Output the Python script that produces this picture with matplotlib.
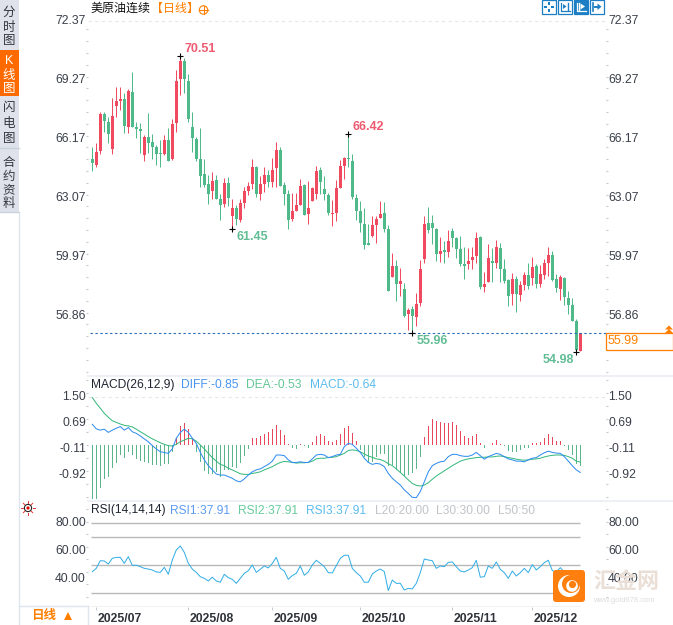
import matplotlib
matplotlib.use("Agg")
import matplotlib.pyplot as plt
from matplotlib.patches import Rectangle, FancyBboxPatch, Circle, Wedge
from matplotlib.ticker import MultipleLocator
from matplotlib.transforms import ScaledTranslation
import numpy as np

plt.rcParams['font.family'] = ['Liberation Sans', 'Noto Sans CJK SC', 'DejaVu Sans']

opens = [65.11,64.80,65.55,67.48,67.06,65.66,67.90,68.16,68.27,66.81,68.64,66.80,66.69,65.32,66.27,65.99,65.75,65.41,65.38,66.11,
         65.11,67.02,69.32,70.26,69.21,66.80,66.17,65.11,64.33,63.80,63.43,64.01,63.01,62.75,63.85,62.12,62.54,61.91,62.80,63.43,
         63.80,64.71,63.28,63.80,64.27,63.92,64.66,65.59,63.75,63.28,61.96,62.38,62.70,63.75,62.22,62.91,63.28,64.54,63.54,63.22,
         62.22,62.28,63.59,64.75,65.17,65.01,63.07,62.38,61.70,60.70,61.07,61.65,62.01,62.28,61.44,58.91,59.49,58.55,58.28,56.97,
         57.23,56.81,57.55,59.86,61.75,61.75,61.44,60.12,60.33,60.23,61.33,60.96,60.39,59.60,59.60,59.81,60.02,61.02,58.39,58.65,
         59.75,59.65,60.44,59.33,58.76,58.02,58.81,57.97,58.49,59.02,58.86,59.49,58.54,59.02,59.65,60.07,58.81,58.28,58.86,57.81,
         57.44,56.60,55.02]
highs = [65.76,65.97,67.57,67.57,67.30,68.34,68.88,68.92,68.57,68.78,69.69,67.08,66.99,66.36,67.53,66.41,65.85,66.11,66.38,66.73,
         67.22,69.79,70.51,70.40,69.58,67.60,66.25,66.73,65.11,64.27,64.43,64.29,63.28,64.12,64.17,63.01,62.70,63.01,63.64,63.91,
         65.11,64.75,64.22,64.67,64.54,65.19,65.99,65.73,63.92,63.49,63.35,63.31,64.06,63.80,63.98,63.66,64.75,64.68,64.22,63.31,
         62.96,64.01,65.06,65.24,66.42,65.38,63.28,62.91,62.54,61.70,62.12,62.12,62.91,62.86,61.65,60.16,59.81,59.39,58.60,57.29,
         57.39,58.07,59.81,62.12,62.59,62.17,61.49,61.02,60.81,61.38,61.49,61.02,61.07,60.49,60.44,60.49,61.28,61.07,59.18,60.65,
         60.44,60.86,60.70,59.86,58.81,59.11,58.97,58.72,59.16,59.63,59.98,59.60,59.54,59.86,60.49,60.28,59.07,59.02,58.89,58.18,
         57.81,56.70,55.99]
lows = [64.50,64.71,65.38,66.53,65.94,65.38,67.34,67.69,66.50,66.50,66.78,66.22,65.45,65.03,65.41,65.10,64.80,64.71,65.32,65.01,
        65.06,66.55,68.48,68.60,67.04,65.50,65.03,63.66,63.66,62.75,63.01,63.01,61.91,62.59,62.64,61.45,61.65,61.80,62.54,63.22,
        63.54,63.10,62.96,63.40,63.63,63.66,63.66,63.70,62.70,61.44,61.86,62.38,62.70,62.17,61.70,62.91,63.00,63.28,62.96,62.17,
        61.59,61.86,63.59,64.06,64.68,63.01,61.91,61.28,60.39,60.60,61.02,60.70,62.01,61.28,58.18,58.91,57.65,57.91,56.83,56.13,
        55.96,56.34,57.39,59.65,61.23,60.65,59.75,59.70,59.65,59.96,60.49,59.91,59.49,58.81,59.33,59.33,59.65,58.28,58.13,58.65,
        58.65,59.39,58.65,58.60,57.39,57.44,57.09,57.65,58.23,58.28,58.49,58.32,58.37,58.81,58.97,58.69,58.12,57.70,57.44,56.97,
        56.60,54.98,55.02]
closes = [64.89,65.46,67.48,67.13,66.43,67.39,68.16,68.27,66.87,68.69,66.81,66.69,66.60,66.29,65.97,65.75,65.38,65.38,66.11,65.01,
          66.95,69.21,70.26,69.32,67.22,66.22,65.11,64.22,63.77,63.29,63.96,63.01,62.71,63.85,63.07,62.54,61.96,62.80,63.43,63.70,
          64.71,63.28,63.80,64.27,63.92,64.54,65.59,63.70,63.28,61.91,62.38,62.70,63.70,62.17,62.54,63.59,64.48,63.91,63.28,62.28,
          62.28,63.59,64.75,65.17,65.12,63.12,62.38,61.75,60.60,60.60,61.65,61.96,62.22,61.44,58.18,59.49,58.55,58.70,56.87,57.18,
          56.87,57.49,59.33,61.70,61.38,61.49,60.12,60.28,60.23,60.81,60.96,60.39,59.60,59.49,59.75,59.96,60.96,58.39,58.55,59.91,
          59.65,60.49,59.33,58.70,57.91,58.81,58.02,58.49,59.02,58.44,59.44,58.54,59.07,59.65,60.07,58.76,58.34,58.91,57.86,57.44,
          56.60,55.08,55.99]

macd_hist = [-1.68,-1.66,-1.34,-1.06,-1.00,-0.70,-0.57,-0.31,-0.41,-0.23,-0.31,-0.43,-0.50,-0.54,-0.57,-0.62,-0.62,-0.64,-0.60,-0.60,
             -0.23,0.21,0.60,0.69,0.49,0.21,-0.23,-0.54,-0.79,-0.91,-0.91,-0.83,-0.98,-0.77,-0.77,-0.67,-0.72,-0.57,-0.34,-0.12,
             0.21,0.21,0.27,0.34,0.39,0.49,0.62,0.46,0.31,0.02,-0.08,-0.12,0.02,-0.02,-0.08,0.10,0.29,0.34,0.29,0.13,
             0.10,0.15,0.33,0.52,0.59,0.36,0.13,-0.15,-0.36,-0.54,-0.52,-0.36,-0.28,-0.29,-0.64,-0.62,-0.77,-0.88,-0.95,-0.93,
             -0.88,-0.75,-0.38,0.24,0.59,0.80,0.74,0.70,0.69,0.67,0.71,0.62,0.43,0.28,0.23,0.28,0.34,0.07,-0.08,0.01,
             0.05,0.15,0.02,-0.02,-0.19,-0.23,-0.23,-0.15,-0.08,-0.08,0.05,0.07,0.10,0.23,0.34,0.25,0.13,0.13,-0.02,-0.15,
             -0.31,-0.60,-0.64]
diff = [0.64,0.50,0.46,0.49,0.39,0.46,0.52,0.57,0.46,0.54,0.41,0.36,0.28,0.19,0.10,-0.02,-0.12,-0.21,-0.23,-0.26,
        -0.12,0.21,0.39,0.49,0.39,0.21,0.05,-0.23,-0.46,-0.64,-0.77,-0.90,-0.93,-0.93,-0.98,-1.03,-1.11,-1.14,-1.05,-0.93,
        -0.83,-0.77,-0.74,-0.67,-0.60,-0.50,-0.31,-0.31,-0.33,-0.46,-0.54,-0.54,-0.52,-0.54,-0.54,-0.43,-0.31,-0.29,-0.31,-0.39,
        -0.36,-0.31,-0.29,-0.05,0.05,0.02,-0.10,-0.23,-0.41,-0.54,-0.60,-0.57,-0.59,-0.67,-0.88,-1.03,-1.14,-1.24,-1.39,-1.50,
        -1.62,-1.63,-1.44,-1.14,-0.83,-0.64,-0.57,-0.52,-0.50,-0.36,-0.29,-0.29,-0.33,-0.35,-0.35,-0.31,-0.23,-0.33,-0.44,-0.36,
        -0.31,-0.26,-0.29,-0.36,-0.43,-0.46,-0.50,-0.50,-0.52,-0.46,-0.41,-0.39,-0.31,-0.24,-0.19,-0.23,-0.25,-0.26,-0.36,-0.50,
        -0.64,-0.77,-0.85]
dea = [1.47,1.29,1.14,0.98,0.86,0.75,0.70,0.65,0.61,0.59,0.56,0.49,0.41,0.34,0.26,0.19,0.13,0.07,0.02,-0.02,
       -0.03,0.02,0.10,0.15,0.21,0.19,0.12,0.00,-0.12,-0.26,-0.39,-0.50,-0.60,-0.64,-0.72,-0.77,-0.83,-0.89,-0.91,-0.91,
       -0.88,-0.86,-0.83,-0.77,-0.72,-0.67,-0.60,-0.54,-0.51,-0.52,-0.54,-0.56,-0.55,-0.55,-0.54,-0.50,-0.43,-0.41,-0.41,-0.39,
       -0.38,-0.36,-0.31,-0.26,-0.17,-0.15,-0.17,-0.21,-0.28,-0.34,-0.38,-0.43,-0.45,-0.50,-0.58,-0.64,-0.74,-0.85,-0.96,-1.08,
       -1.19,-1.25,-1.27,-1.24,-1.17,-1.06,-0.96,-0.88,-0.80,-0.72,-0.64,-0.57,-0.50,-0.46,-0.43,-0.41,-0.39,-0.38,-0.38,-0.37,
       -0.37,-0.35,-0.34,-0.36,-0.39,-0.41,-0.44,-0.46,-0.47,-0.46,-0.44,-0.43,-0.41,-0.37,-0.34,-0.32,-0.31,-0.31,-0.32,-0.36,
       -0.41,-0.50,-0.53]
rsi = [45.2,47.6,53.1,52.9,50.7,54.8,55.5,55.5,51.2,56.0,49.8,49.8,48.8,47.6,47.1,46.4,45.0,44.7,48.3,43.3,
       53.6,60.8,63.7,59.1,51.2,47.1,44.7,41.6,40.4,38.5,41.2,38.5,37.6,43.3,40.9,39.7,36.8,40.4,44.0,45.9,
       50.0,44.7,46.9,49.3,47.9,51.2,55.5,47.6,45.7,39.7,42.4,44.0,49.3,42.6,45.0,50.0,53.4,51.2,48.8,44.5,
       44.3,49.5,54.8,57.0,57.0,47.6,44.5,42.1,37.6,37.6,43.5,45.7,47.1,45.2,31.6,39.2,36.8,36.8,32.0,33.2,
       32.8,36.8,44.5,54.3,53.6,53.1,47.6,49.3,48.8,51.9,52.2,48.8,45.7,45.0,46.4,48.1,53.4,41.2,41.6,49.3,
       47.6,52.2,46.9,44.5,40.4,45.7,42.1,44.5,47.6,44.5,50.3,46.4,48.8,51.7,53.4,46.0,45.0,48.1,45.0,44.0,
       40.0,36.0,37.91]
for s in (opens, highs, lows, closes, macd_hist, diff, dea, rsi):
    assert len(s) == 123, len(s)

price_ticks = [72.37, 69.27, 66.17, 63.07, 59.97, 56.86]
macd_ticks = [1.50, 0.69, -0.11, -0.92]
rsi_ticks = [80, 60, 40]
rsi_levels = [80, 70, 50, 30, 20]
month_idx = [1, 24, 45, 67, 90, 110]
month_labels = ['2025/07', '2025/08', '2025/09', '2025/10', '2025/11', '2025/12']
last_price = 55.99
price_notes = [(22, 70.51, '70.51', 'r'), (64, 66.42, '66.42', 'r'), (35, 61.45, '61.45', 'g'),
               (80, 55.96, '55.96', 'g'), (121, 54.98, '54.98', 'g')]

W, H = 673, 625
RED, GREEN = '#ef4a60', '#50b98a'
ORANGE = '#ff7f00'
TXT = '#3a3f4a'
px = lambda v: v * 0.72
fig = plt.figure(figsize=(W / 100, H / 100), dpi=100, facecolor='white')


def make_ax(y0, y1):
    a = fig.add_axes([88 / W, 1 - y1 / H, (606 - 88) / W, (y1 - y0) / H])
    a.set_xlim((88 - 92.3) / 4, (606 - 92.3) / 4)
    a.patch.set_alpha(0)
    for s in a.spines.values():
        s.set_visible(False)
    return a


def style_y(a, ticks, labels, minor):
    a.set_yticks(ticks)
    a.set_yticklabels(labels)
    a.yaxis.set_minor_locator(MultipleLocator(minor))
    a.tick_params(axis='y', which='major', left=False, right=False, labelleft=True, labelright=True,
                  length=0, labelsize=px(12.3), labelcolor=TXT, pad=1.5)
    a.tick_params(axis='y', which='minor', left=True, right=True, length=1.2, width=0.8, color='#c4c8cf')
    off = ScaledTranslation(0, 1.5 / 100, fig.dpi_scale_trans)
    for t in a.yaxis.get_major_ticks():
        t.label1.set_transform(t.label1.get_transform() + off)
        t.label2.set_transform(t.label2.get_transform() + off)
    a.set_xticks([])


# price pane
ax = make_ax(20, 375)
ax.set_ylim(73.47 - 0.05255 * 375, 73.47 - 0.05255 * 20)
x = np.arange(len(opens))
o, h, l, c = map(np.array, (opens, highs, lows, closes))
colors = [RED if cc >= oo else GREEN for oo, cc in zip(o, c)]
ax.vlines(x, l, h, colors=colors, lw=0.72, zorder=2)
ax.bar(x, np.maximum(np.abs(c - o), 0.03), bottom=np.minimum(o, c), width=0.82, color=colors, lw=0, zorder=3)
ax.axhline(last_price, xmin=(90 - 88) / 518, color='#2a6fb8', lw=0.8, dashes=(2.2, 2.2), zorder=4)
ax.axhline(72.37, color='#e6e8ec', lw=0.8, dashes=(3, 3), zorder=1)
style_y(ax, price_ticks, [f'{v:.2f}' for v in price_ticks], 0.62)
note_off = {'70.51': (4, 7), '66.42': (4, 7), '61.45': (4, -8), '55.96': (4, -8), '54.98': (-34, -8)}
for i, v, t, k in price_notes:
    ax.plot([i], [v], marker='+', ms=5, mew=0.8, color='black', zorder=5)
    dx, dy = note_off[t]
    ax.annotate(t, (i, v), xytext=(px(dx), px(dy)), textcoords='offset points', va='center', ha='left',
                fontsize=px(12.5), fontweight='bold', color='#ee5a70' if k == 'r' else '#62bd94', zorder=6)

# MACD pane
ax2 = make_ax(376, 500)
ax2.set_ylim((445 - 500) / 32.3, (445 - 376) / 32.3)
hist = np.array(macd_hist)
ax2.bar(x, hist, width=0.3, color=['#e9485c' if v > 0 else '#5ab58a' for v in hist], lw=0, zorder=2)
ax2.plot(x, dea, color='#35b87c', lw=0.72, zorder=3)
ax2.plot(x, diff, color='#2e8bf0', lw=0.72, zorder=4)
ax2.axhline(1.50, color='#e6e8ec', lw=0.8, dashes=(3, 3), zorder=1)
style_y(ax2, macd_ticks, [f'{v:.2f}' for v in macd_ticks], 0.4)

# RSI pane
ax3 = make_ax(501, 607)
ax3.set_ylim(80 - (607 - 523.3) / 1.39, 80 - (501 - 523.3) / 1.39)
ax3.hlines(rsi_levels, -0.3, 122, color='#b8b8b8', lw=1.0, zorder=1)
ax3.plot(x, rsi, color='#33aee6', lw=0.72, zorder=3)
style_y(ax3, rsi_ticks, [f'{v:.2f}' for v in rsi_ticks], 9)
ax3.set_xticks(month_idx)
ax3.set_xticklabels(month_labels, ha='left', fontsize=px(12.2), fontweight='bold', color='#2f3238')
ax3.tick_params(axis='x', length=2.5, width=0.7, color='#c4c8cf', pad=1.5)
for lab in ax3.get_xticklabels():
    lab.set_transform(lab.get_transform() + ScaledTranslation(1.5 / 100, 0, fig.dpi_scale_trans))

# page furniture in pixel coordinates
ch = fig.add_axes([0, 0, 1, 1], zorder=10)
ch.set_xlim(0, W)
ch.set_ylim(H, 0)
ch.axis('off')
ch.patch.set_alpha(0)
ch.add_patch(Rectangle((0, 0), 19, 213, fc='#dfe2ea', ec='none'))
ch.add_patch(Rectangle((0, 50), 19, 46, fc='#ff6a00', ec='none'))
for yy in (148, 212):
    ch.plot([0, 19], [yy, yy], color='#c9d2dc', lw=1)
ch.plot([18.5, 18.5], [213, 625], color='#dde5ee', lw=1)
ch.plot([19, 88], [606, 606], color='#dde5ee', lw=1)
ch.plot([88, 88], [606, 625], color='#dde5ee', lw=1)
side = [('分', 13), ('时', 28), ('图', 41), ('闪', 108), ('电', 124), ('图', 139),
        ('合', 163), ('约', 177), ('资', 190), ('料', 204)]
for t, yy in side:
    ch.text(9, yy, t, ha='center', va='center', fontsize=px(12.5), color='#33373d')
for t, yy in [('K', 61), ('线', 76), ('图', 89)]:
    ch.text(9, yy, t, ha='center', va='center', fontsize=px(12.5), color='white')
ch.text(91, 8.5, '美原油连续', va='center', fontsize=px(12), color='#111111')
ch.text(151, 8.5, '【日线】', va='center', fontsize=px(12), color=ORANGE, ha='left')
ch.add_patch(Circle((203.5, 10), 4.2, fc='none', ec=ORANGE, lw=0.8))
ch.plot([199.3, 207.7], [10, 10], color=ORANGE, lw=0.8)
ch.plot([203.5, 203.5], [5.8, 14.2], color=ORANGE, lw=0.8)
BLUE = '#1c7fc6'
for bx, filled, kind in [(542, False, 'cross'), (558, False, 'in'), (574, True, 'out'), (590, False, 'arrow')]:
    ch.add_patch(Rectangle((bx, 0), 13.5, 13.5, fc=BLUE if filled else 'white', ec=BLUE, lw=0.9))
    fg = 'white' if filled else BLUE
    if kind == 'cross':
        for ddx, ddy in [(0, -3.5), (0, 3.5), (-3.5, 0), (3.5, 0)]:
            ch.add_patch(Rectangle((bx + 5.7 + ddx, 5.7 + ddy), 2.4, 2.4, fc=fg, ec='none'))
    elif kind == 'arrow':
        ch.plot([bx + 3, bx + 3], [2.5, 11], color=fg, lw=1.2)
        ch.plot([bx + 5, bx + 8], [6.7, 6.7], color=fg, lw=1.4)
        ch.fill([bx + 7.5, bx + 11.5, bx + 7.5], [3.5, 6.7, 10], color=fg, lw=0)
    else:
        ch.plot([bx + 3, bx + 3, bx + 11.5], [2.5, 11, 11], color=fg, lw=0.9)
        if kind == 'in':
            ch.fill([bx + 5, bx + 8.5, bx + 5], [4, 6.5, 9], color=fg, lw=0)
            ch.plot([bx + 9.5, bx + 9.5], [3, 10], color=fg, lw=1)
        else:
            ch.plot([bx + 5, bx + 5], [3, 10], color=fg, lw=1)
            ch.fill([bx + 6.5, bx + 11, bx + 6.5], [3.5, 6.5, 9.5], color=fg, lw=0)
ch.add_patch(Rectangle((606, 333), 67, 17, fc='white', ec=ORANGE, lw=0.9))
ch.text(608, 341.5, '55.99', va='center', fontsize=px(12.5), color=ORANGE)
for yy in (326, 329.5):
    ch.fill([665, 669, 673], [yy + 3.5, yy - 0.5, yy + 3.5], color=ORANGE, lw=0)
for yy in (376, 501):
    ch.plot([88, 673], [yy, yy], color='#edf0f4', lw=1.4)
for tx, yy, t, col in [(91, 385, 'MACD(26,12,9)', '#1f2530'), (181, 385, 'DIFF:-0.85', '#4a94ee'),
                       (246, 385, 'DEA:-0.53', '#63c796'), (310, 385, 'MACD:-0.64', '#5cbcee'),
                       (91, 510.5, 'RSI(14,14,14)', '#1f2530'), (170, 510.5, 'RSI1:37.91', '#5c9cf0'),
                       (238, 510.5, 'RSI2:37.91', '#66cc9c'), (306, 510.5, 'RSI3:37.91', '#5cbcee'),
                       (375, 510.5, 'L20:20.00', '#c0c4c8'), (436, 510.5, 'L30:30.00', '#c0c4c8'),
                       (498, 510.5, 'L50:50', '#c0c4c8')]:
    ch.text(tx, yy, t, va='center', fontsize=px(12), color=col)
# sun icon
ch.add_patch(Circle((28, 508), 3.6, fc='white', ec='#222222', lw=0.8))
ch.add_patch(Circle((28, 508), 1.6, fc='#e00000', ec='none'))
for ang in np.arange(0, 360, 45):
    ca, sa = np.cos(np.radians(ang)), np.sin(np.radians(ang))
    ch.plot([28 + 4.6 * ca, 28 + 6.6 * ca], [508 + 4.6 * sa, 508 + 6.6 * sa], color='#e83030', lw=0.7)
ch.text(44, 616.5, '日线', ha='center', va='center', fontsize=px(12.5), fontweight='bold', color=ORANGE)
ch.fill([64, 68, 72], [620, 612, 620], color=ORANGE, lw=0)
# watermark logo
ch.add_patch(FancyBboxPatch((555, 572), 28, 28, boxstyle='round,pad=2,rounding_size=3', fc='#ff7f0e', ec='none'))
ch.add_patch(Circle((569, 586), 11, fc='white', ec='none'))
ch.add_patch(Circle((571, 584), 9, fc='#ff7f0e', ec='none'))
ch.add_patch(Wedge((572, 586), 5.8, 0, 360, width=5.8, fc='white', ec='none'))
ch.add_patch(Circle((572.5, 584.5), 3.6, fc='#ff7f0e', ec='none'))
ch.text(593, 583, '汇金网', va='center', fontsize=px(22), fontweight='bold', color='#eadfd6')
ch.text(593, 600, 'www.gold678.com', va='center', fontsize=px(7.5), color='#dcdcdc')

fig.savefig('out.png', dpi=100)
